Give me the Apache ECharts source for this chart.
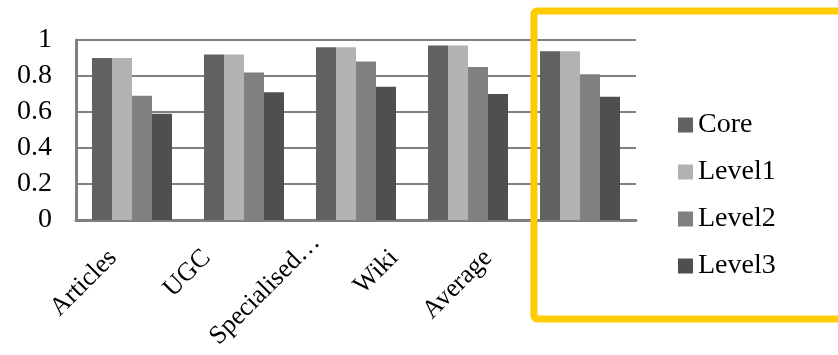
<!DOCTYPE html>
<html>
<head>
<meta charset="utf-8">
<script src="https://cdn.jsdelivr.net/npm/echarts@6/dist/echarts.min.js"></script>
<style>
  html, body { margin: 0; padding: 0; background: #ffffff; }
  #chart { width: 838px; height: 355px; }
</style>
</head>
<body>
<div id="chart"></div>
<script>
// Source categories and per-level scores
const categories = ['Articles', 'UGC', 'Specialised…', 'Wiki', 'Average'];
const seriesNames = ['Core', 'Level1', 'Level2', 'Level3'];
const coreValues   = [0.90, 0.92, 0.96, 0.97, 0.937];
const level1Values = [0.90, 0.92, 0.96, 0.97, 0.937];
const level2Values = [0.69, 0.82, 0.88, 0.85, 0.81];
const level3Values = [0.59, 0.71, 0.74, 0.70, 0.685];
const yTickLabels = ['0', '0.2', '0.4', '0.6', '0.8', '1'];

const colors = ['#616161', '#b2b2b2', '#808080', '#4f4f4f'];
const seriesValues = [coreValues, level1Values, level2Values, level3Values];
const FONT = 'Liberation Serif';

const chart = echarts.init(document.getElementById('chart'), null, { renderer: 'canvas' });

chart.setOption({
  animation: false,
  backgroundColor: '#ffffff',
  textStyle: { fontFamily: FONT, color: '#000' },
  grid: [
    { left: 76, top: 40, width: 560, height: 180, containLabel: false },
    // second grid only carries the rotated category labels
    { left: 66, top: 40, width: 469, height: 180, containLabel: false, show: false }
  ],
  xAxis: [
    {
      type: 'category',
      gridIndex: 0,
      data: categories,
      axisLine: { show: true, lineStyle: { color: '#7f7f7f', width: 3 } },
      axisTick: { show: false },
      axisLabel: { show: false },
      splitLine: { show: false }
    },
    {
      type: 'category',
      gridIndex: 1,
      data: categories,
      axisLine: { show: false },
      axisTick: { show: false },
      splitLine: { show: false },
      axisLabel: {
        show: true,
        interval: 0,
        rotate: 45,
        margin: 34,
        fontFamily: FONT,
        fontSize: 26,
        color: '#000',
        formatter: function (v) {
          return v === 'Specialised…' ? '{s|' + v + '}' : v;
        },
        rich: {
          s: { fontFamily: FONT, fontSize: 26, color: '#000', padding: [0, -22, 0, 0] }
        }
      }
    }
  ],
  yAxis: [
    {
      type: 'value',
      gridIndex: 0,
      min: 0,
      max: 1,
      interval: 0.2,
      axisLine: { show: true, lineStyle: { color: '#7f7f7f', width: 3 } },
      axisTick: { show: false },
      splitLine: { show: true, lineStyle: { color: '#7f7f7f', width: 2 } },
      axisLabel: {
        margin: 24,
        fontFamily: FONT,
        fontSize: 28,
        color: '#000',
        formatter: function (v) { return yTickLabels[Math.round(v / 0.2)]; }
      }
    },
    { type: 'value', gridIndex: 1, min: 0, max: 1, show: false }
  ],
  legend: {
    orient: 'vertical',
    left: 673,
    top: 106,
    itemWidth: 15,
    itemHeight: 15,
    itemGap: 19,
    icon: 'rect',
    data: seriesNames,
    textStyle: { fontFamily: FONT, fontSize: 28, color: '#000' }
  },
  series: seriesNames.map(function (name, i) {
    return {
      name: name,
      type: 'bar',
      xAxisIndex: 0,
      yAxisIndex: 0,
      data: seriesValues[i],
      barGap: '0%',
      barCategoryGap: '28.6%',
      itemStyle: { color: colors[i] }
    };
  }),
  graphic: [
    {
      type: 'rect',
      z: 100,
      shape: { x: 534, y: 11, width: 420, height: 308, r: 3 },
      style: { fill: null, stroke: '#ffcc00', lineWidth: 7 }
    }
  ]
});
</script>
</body>
</html>
